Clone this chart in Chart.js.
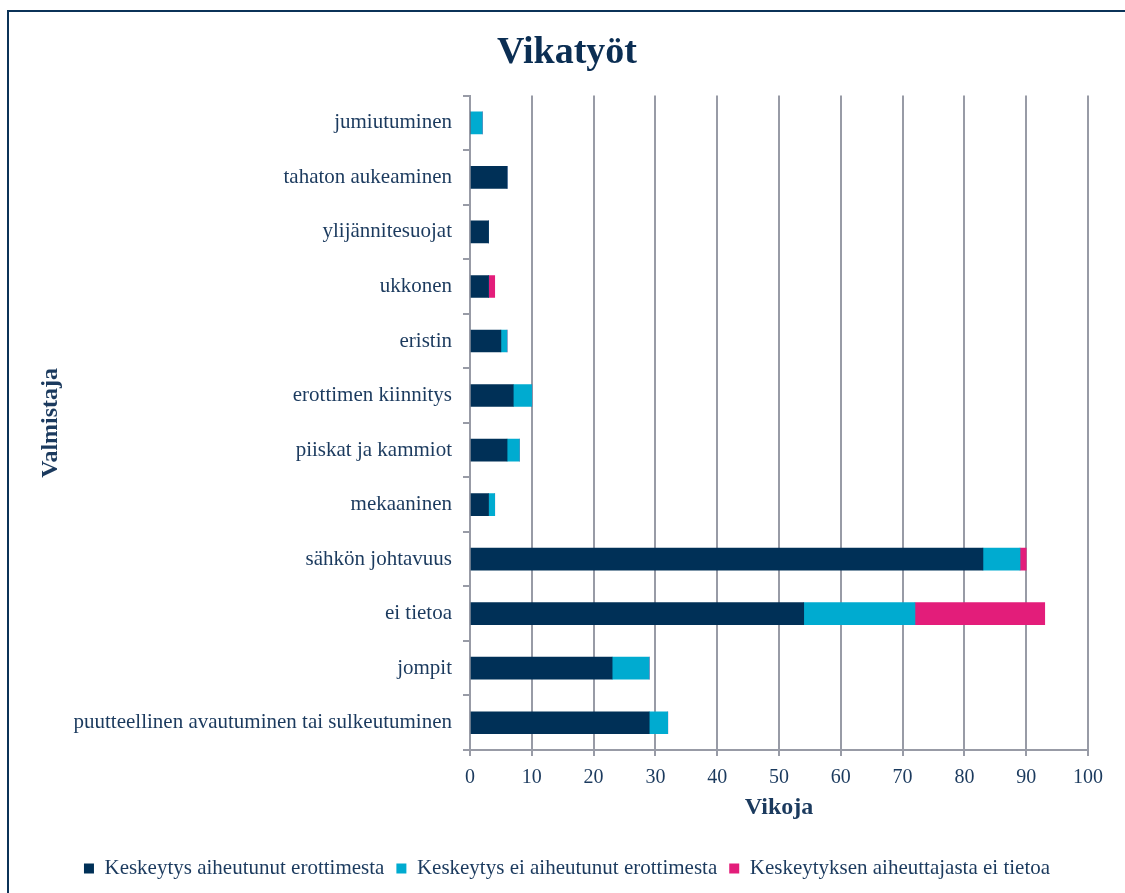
<!DOCTYPE html>
<html>
<head>
<meta charset="utf-8">
<script src="https://cdn.jsdelivr.net/npm/chart.js@4.4.1/dist/chart.umd.min.js"></script>
<style>
  html, body { margin: 0; padding: 0; background: #fff; overflow: hidden; }
  #wrap { position: absolute; left: 0; top: 0; width: 1125px; height: 893px; }
  #frame { position: absolute; left: 7px; top: 10px; width: 1200px; height: 1000px; border: 2px solid #0b3358; box-sizing: border-box; pointer-events: none; }
</style>
</head>
<body>
<div id="wrap"><canvas id="c"></canvas></div>
<div id="frame"></div>
<script>
const categories = [
  "jumiutuminen",
  "tahaton aukeaminen",
  "ylijännitesuojat",
  "ukkonen",
  "eristin",
  "erottimen kiinnitys",
  "piiskat ja kammiot",
  "mekaaninen",
  "sähkön johtavuus",
  "ei tietoa",
  "jompit",
  "puutteellinen avautuminen tai sulkeutuminen"
];
const seriesNames = [
  "Keskeytys aiheutunut erottimesta",
  "Keskeytys ei aiheutunut erottimesta",
  "Keskeytyksen aiheuttajasta ei tietoa"
];
const fromSwitch = [0, 6, 3, 3, 5, 7, 6, 3, 83, 54, 23, 29];
const notFromSwitch = [2, 0, 0, 0, 1, 3, 2, 1, 6, 18, 6, 3];
const unknownCause = [0, 0, 0, 1, 0, 0, 0, 0, 1, 21, 0, 0];
const xTicks = [0, 10, 20, 30, 40, 50, 60, 70, 80, 90, 100];

const FONT = "'Liberation Serif', 'Times New Roman', serif";
const TXT = "#1b3a5e";
const GRID = "#989ba6";

new Chart(document.getElementById('c'), {
  type: 'bar',
  data: {
    labels: categories,
    datasets: [
      { label: seriesNames[0], data: fromSwitch, backgroundColor: '#003057' },
      { label: seriesNames[1], data: notFromSwitch, backgroundColor: '#00abd0' },
      { label: seriesNames[2], data: unknownCause, backgroundColor: '#e31d7a' }
    ]
  },
  options: {
    indexAxis: 'y',
    responsive: true,
    maintainAspectRatio: false,
    animation: false,
    layout: { padding: { left: 46, right: 37, top: 12, bottom: 4 } },
    datasets: { bar: { barThickness: 22, borderWidth: 0 } },
    scales: {
      x: {
        stacked: true,
        min: 0, max: 100,
        afterBuildTicks: (s) => { s.ticks = xTicks.map(v => ({ value: v })); },
        ticks: { color: TXT, font: { family: FONT, size: 20 }, padding: 10 },
        grid: { color: GRID, lineWidth: 2, drawTicks: true, tickLength: 6, tickColor: GRID },
        border: { display: true, color: GRID, width: 2 },
        title: { display: true, text: 'Vikoja', color: TXT, font: { family: FONT, size: 24, weight: 'bold' }, padding: { top: 4, bottom: 24 } },
        afterFit: (s) => { s.height = 96; }
      },
      y: {
        stacked: true,
        ticks: { color: TXT, font: { family: FONT, size: 21 }, padding: 11 },
        grid: { drawOnChartArea: false, drawTicks: true, tickLength: 7, offset: true, color: GRID, lineWidth: 2 },
        border: { display: true, color: GRID, width: 2 },
        title: { display: true, text: 'Valmistaja', color: TXT, font: { family: FONT, size: 24, weight: 'bold' }, padding: { top: -10, bottom: 0 } },
        afterFit: (s) => { s.width = 424; }
      }
    },
    plugins: {
      title: {
        display: true,
        text: 'Vikatyöt',
        color: '#0b2e53',
        font: { family: FONT, size: 38, weight: 'bold' },
        padding: { top: 18, bottom: 20 }
      },
      legend: {
        position: 'bottom',
        labels: {
          color: TXT,
          font: { family: FONT, size: 21 },
          boxWidth: 10, boxHeight: 10,
          padding: 12
        }
      },
      tooltip: { enabled: false }
    }
  }
});
</script>
</body>
</html>
